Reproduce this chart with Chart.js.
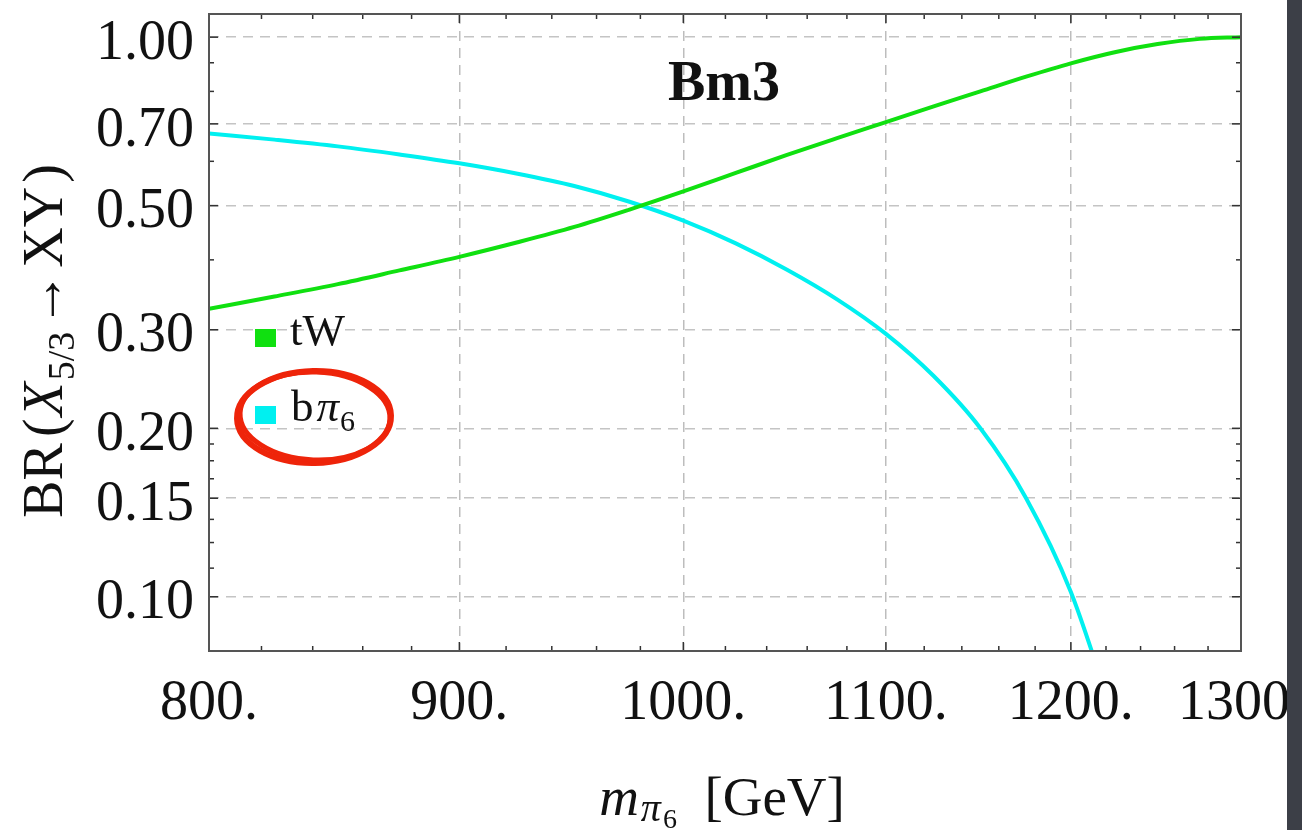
<!DOCTYPE html>
<html>
<head>
<meta charset="utf-8">
<style>
  html, body { margin: 0; padding: 0; background: #fff; overflow: hidden; }
  canvas { display: block; }
</style>
<script src="https://cdn.jsdelivr.net/npm/chart.js@4.4.1/dist/chart.umd.min.js"></script>
</head>
<body>
<canvas id="brChart" width="1302" height="830"></canvas>
<script>
// values (both axes logarithmic)
const masses = [800, 825, 850, 875, 900, 925, 950, 975, 1000, 1025, 1050, 1075, 1100, 1125, 1150, 1175, 1200, 1225, 1250, 1275, 1300];
const brTW   = [0.327, 0.344, 0.362, 0.383, 0.405, 0.430, 0.458, 0.492, 0.530, 0.572, 0.616, 0.660, 0.705, 0.752, 0.800, 0.850, 0.898, 0.940, 0.972, 0.993, 1.000];
const brBPi  = [0.673, 0.656, 0.638, 0.617, 0.595, 0.570, 0.542, 0.508, 0.470, 0.428, 0.384, 0.340, 0.295, 0.248, 0.200, 0.150, 0.102, 0.060, null, null, null];

const xTicks = [800, 900, 1000, 1100, 1200, 1300];
const yTicks = [0.10, 0.15, 0.20, 0.30, 0.50, 0.70, 1.00];
const yMinorTicks = [0.1125, 0.125, 0.1375, 0.1625, 0.175, 0.1875, 0.4, 0.6, 0.8, 0.9];

const SERIF = "'Liberation Serif', 'Times New Roman', serif";
const GREEN = '#10e010';
const CYAN = '#00f0f0';

// draw a row of text pieces (different fonts / baselines) centred on cx
function drawRuns(ctx, runs, cx, baseY) {
  let total = 0;
  runs.forEach(r => {
    ctx.font = r.font;
    r.w = ctx.measureText(r.text).width + (r.dx || 0);
    total += r.w;
  });
  let x = cx - total / 2;
  runs.forEach(r => {
    ctx.font = r.font;
    ctx.fillText(r.text, x, baseY + (r.dy || 0));
    x += r.w;
  });
}

const decorPlugin = {
  id: 'decor',
  afterDatasetsDraw(chart) {
    const { ctx, chartArea: a, scales: { x, y } } = chart;
    ctx.save();

    // inward frame ticks on all four sides
    ctx.strokeStyle = '#333';
    ctx.lineWidth = 1.5;
    const seg = (x1, y1, x2, y2) => { ctx.beginPath(); ctx.moveTo(x1, y1); ctx.lineTo(x2, y2); ctx.stroke(); };
    for (let m = 820; m < 1300; m += 20) {
      const px = x.getPixelForValue(m);
      const len = m % 100 === 0 ? 9 : 5;
      seg(px, a.bottom, px, a.bottom - len);
      seg(px, a.top, px, a.top + len);
    }
    yTicks.concat(yMinorTicks).forEach(v => {
      const py = y.getPixelForValue(v);
      const len = yTicks.includes(v) ? 9 : 5;
      seg(a.left, py, a.left + len, py);
      seg(a.right, py, a.right - len, py);
    });

    ctx.strokeStyle = '#555';
    ctx.lineWidth = 2;
    ctx.strokeRect(a.left, a.top, a.right - a.left, a.bottom - a.top);

    ctx.fillStyle = '#111';
    ctx.textBaseline = 'alphabetic';

    // panel label
    ctx.font = 'bold 56px ' + SERIF;
    ctx.textAlign = 'center';
    ctx.fillText('Bm3', 724, 100);
    ctx.textAlign = 'left';

    // legend
    ctx.fillStyle = GREEN;
    ctx.fillRect(a.left + 46, 329, 21, 18);
    ctx.fillStyle = CYAN;
    ctx.fillRect(a.left + 46, 406, 21, 18);
    ctx.fillStyle = '#111';
    ctx.font = '45px ' + SERIF;
    ctx.fillText('tW', 290, 345);
    ctx.fillText('b', 291, 421);
    let lx = 291 + ctx.measureText('b').width + 3;
    ctx.font = 'italic 45px ' + SERIF;
    ctx.fillText('π', lx, 421);
    lx += ctx.measureText('π').width + 1;
    ctx.font = '30px ' + SERIF;
    ctx.fillText('6', lx, 431);

    // axis titles
    drawRuns(ctx, [
      { text: 'm', font: 'italic 55px ' + SERIF, dx: 2 },
      { text: 'π', font: 'italic 40px ' + SERIF, dy: 6, dx: 2 },
      { text: '6', font: '28px ' + SERIF, dy: 13 },
      { text: '  [GeV]', font: '55px ' + SERIF }
    ], 722, 815);

    ctx.save();
    ctx.translate(62, 341);
    ctx.rotate(-Math.PI / 2);
    drawRuns(ctx, [
      { text: 'BR', font: '56px ' + SERIF, dx: 6 },
      { text: '(', font: '56px ' + SERIF, dx: 2 },
      { text: 'X', font: 'italic 56px ' + SERIF, dx: 2 },
      { text: '5/3', font: '38px ' + SERIF, dy: 12, dx: 4 },
      { text: '→', font: '56px ' + SERIF, dx: 4 },
      { text: 'XY', font: '56px ' + SERIF, dx: 4 },
      { text: ')', font: '56px ' + SERIF }
    ], 0, 0);
    ctx.restore();

    // hand-drawn red ring around the second legend entry
    ctx.strokeStyle = '#ee240a';
    ctx.lineWidth = 6;
    ctx.beginPath(); ctx.ellipse(314, 417, 77, 46, -0.02, 0, Math.PI * 2); ctx.stroke();
    ctx.lineWidth = 5;
    ctx.beginPath(); ctx.ellipse(315, 416, 75, 44, 0.04, 0, Math.PI * 2); ctx.stroke();

    ctx.restore();
  },
  afterDraw(chart) {
    const { ctx, width, height } = chart;
    ctx.save();
    ctx.fillStyle = '#3c3f47';
    ctx.fillRect(1287, 0, width - 1287, height);
    ctx.restore();
  }
};

const ctx = document.getElementById('brChart').getContext('2d');

new Chart(ctx, {
  type: 'line',
  data: {
    datasets: [
      {
        label: 'tW',
        data: masses.map((m, i) => ({ x: m, y: brTW[i] })),
        borderColor: GREEN,
        borderWidth: 4,
        pointRadius: 0,
        cubicInterpolationMode: 'monotone',
        clip: 0
      },
      {
        label: 'bπ6',
        data: masses.map((m, i) => ({ x: m, y: brBPi[i] })),
        borderColor: CYAN,
        borderWidth: 4,
        pointRadius: 0,
        cubicInterpolationMode: 'monotone',
        clip: 0
      }
    ]
  },
  options: {
    responsive: false,
    animation: false,
    devicePixelRatio: 1,
    layout: { padding: { left: 0, top: 14, right: 61, bottom: 0 } },
    plugins: {
      legend: { display: false },
      tooltip: { enabled: false },
      title: { display: false }
    },
    scales: {
      x: {
        type: 'logarithmic',
        min: 800,
        max: 1300,
        afterBuildTicks: axis => { axis.ticks = xTicks.map(v => ({ value: v })); },
        afterFit: axis => {
          axis.height = 179;
          axis.paddingLeft = 0; axis.paddingRight = 0;
        },
        border: { display: false, dash: [10, 7] },
        grid: {
          drawTicks: false,
          lineWidth: 1.5,
          color: c => (c.tick && (c.tick.value === 800 || c.tick.value === 1300)) ? 'rgba(0,0,0,0)' : '#bdbdbd'
        },
        ticks: {
          autoSkip: false,
          maxRotation: 0,
          minRotation: 0,
          padding: 20,
          color: '#111',
          font: { family: SERIF, size: 56 },
          callback: v => v + '.'
        }
      },
      y: {
        type: 'logarithmic',
        min: 0.08,
        max: 1.1,
        afterBuildTicks: axis => { axis.ticks = yTicks.map(v => ({ value: v })); },
        afterFit: axis => {
          axis.width = 209;
          axis.paddingTop = 0; axis.paddingBottom = 0;
        },
        border: { display: false, dash: [10, 7] },
        grid: {
          drawTicks: false,
          lineWidth: 1.5,
          color: '#c4c4c4'
        },
        ticks: {
          autoSkip: false,
          padding: 15,
          labelOffset: 7,
          color: '#111',
          font: { family: SERIF, size: 56 },
          callback: v => Number(v).toFixed(2)
        }
      }
    }
  },
  plugins: [decorPlugin]
});
</script>
</body>
</html>
